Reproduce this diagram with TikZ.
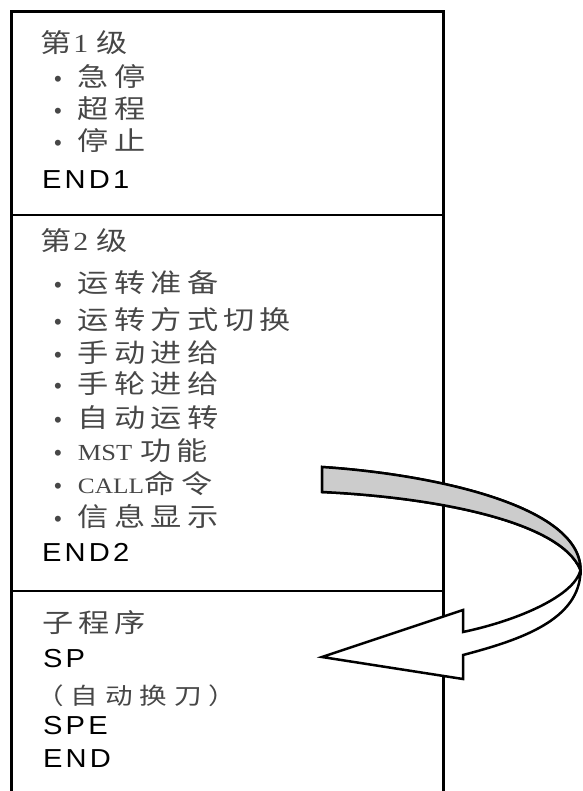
\documentclass[tikz,border=0pt]{standalone}
\usepackage{fontspec}
\setmainfont{Liberation Serif}
\newfontfamily\cjk[LetterSpace=20,FakeStretch=1.2]{Noto Sans CJK SC}
\newfontfamily\cjkp[LetterSpace=30,FakeStretch=1.2]{Noto Sans CJK SC}
\newfontfamily\latn[LetterSpace=12,FakeStretch=1.12]{Liberation Sans}
\newfontfamily\ser[FakeStretch=1.15]{Liberation Serif}
\newfontfamily\bulf{Liberation Sans}
\newcommand\bul{{\bulf\fontsize{22}{22}\selectfont\textbullet}\hspace{16pt}}
\tikzset{
  cj/.style={anchor=base west, inner sep=0pt, font=\cjk\fontsize{26}{26}\selectfont, text=black!72},
  lat/.style={anchor=base west, inner sep=0pt, font=\latn\fontsize{26}{26}\selectfont, text=black},
  border/.style={line width=3pt},
  divider/.style={line width=2pt},
  band/.style={line width=2.5pt}
}
\begin{document}
\begin{tikzpicture}[x=1pt,y=-1pt]
\useasboundingbox (0,0) rectangle (582,791);
% box
\draw[border] (11,791) -- (11,12) -- (443,12) -- (443,791);
\draw[divider] (11,215) -- (443,215);
\draw[divider] (11,591) -- (443,591);
% level 1
\node[cj] (t1) at (40,53) {第{\hspace{2pt}\ser 1\hspace{8pt}}级};
\node[cj] (a1) at (54,87) {\bul 急停};
\node[cj] (a2) at (54,119) {\bul 超程};
\node[cj] (a3) at (54,151) {\bul 停止};
\node[lat] (e1) at (42,189) {END1};
% level 2
\node[cj] (t2) at (40,251) {第{\hspace{2pt}\ser 2\hspace{8pt}}级};
\node[cj] (b1) at (54,292) {\bul 运转准备};
\node[cj] (b2) at (54,329) {\bul 运转方式切换};
\node[cj] (b3) at (54,362) {\bul 手动进给};
\node[cj] (b4) at (54,393) {\bul 手轮进给};
\node[cj] (b5) at (54,427) {\bul 自动运转};
\node[cj] (b6) at (54,460) {\bul {\ser\fontsize{23}{23}\selectfont MST\hspace{8pt}}功能};
\node[cj] (b7) at (54,493) {\bul {\ser\fontsize{22}{22}\selectfont CALL\hspace{1pt}}命令};
\node[cj] (b8) at (54,526) {\bul 信息显示};
\node[lat] (e2) at (42,561) {END2};
% subprogram
\node[cj] (t3) at (42,632) {子程序};
\node[lat] (sp) at (43,667) {SP};
\node[cj, font=\cjkp\fontsize{23}{23}\selectfont] (zd) at (36,704) {（自动换刀）};
\node[lat] (spe) at (43,734) {SPE};
\node[lat] (en) at (43,767) {END};
% curved arrow
\coordinate (A) at (322,467);
\coordinate (B) at (322,492);
\coordinate (X) at (580.5,570);
\coordinate (C) at (463,655);
\coordinate (D) at (463,632);
\coordinate (H1) at (463,610);
\coordinate (H2) at (463,679);
\coordinate (T) at (322,657);
\filldraw[band, fill=white] (A) .. controls (430,474) and (580.5,505) .. (X)
  .. controls (580.5,620) and (520,640) .. (C) -- (H2) -- (T) -- (H1) -- (D)
  .. controls (520,620) and (575,595) .. (X)
  .. controls (560,520) and (430,497) .. (B) -- cycle;
\filldraw[band, fill=gray!40] (A) .. controls (430,474) and (580.5,505) .. (X)
  .. controls (560,520) and (430,497) .. (B) -- cycle;
\end{tikzpicture}
\end{document}
